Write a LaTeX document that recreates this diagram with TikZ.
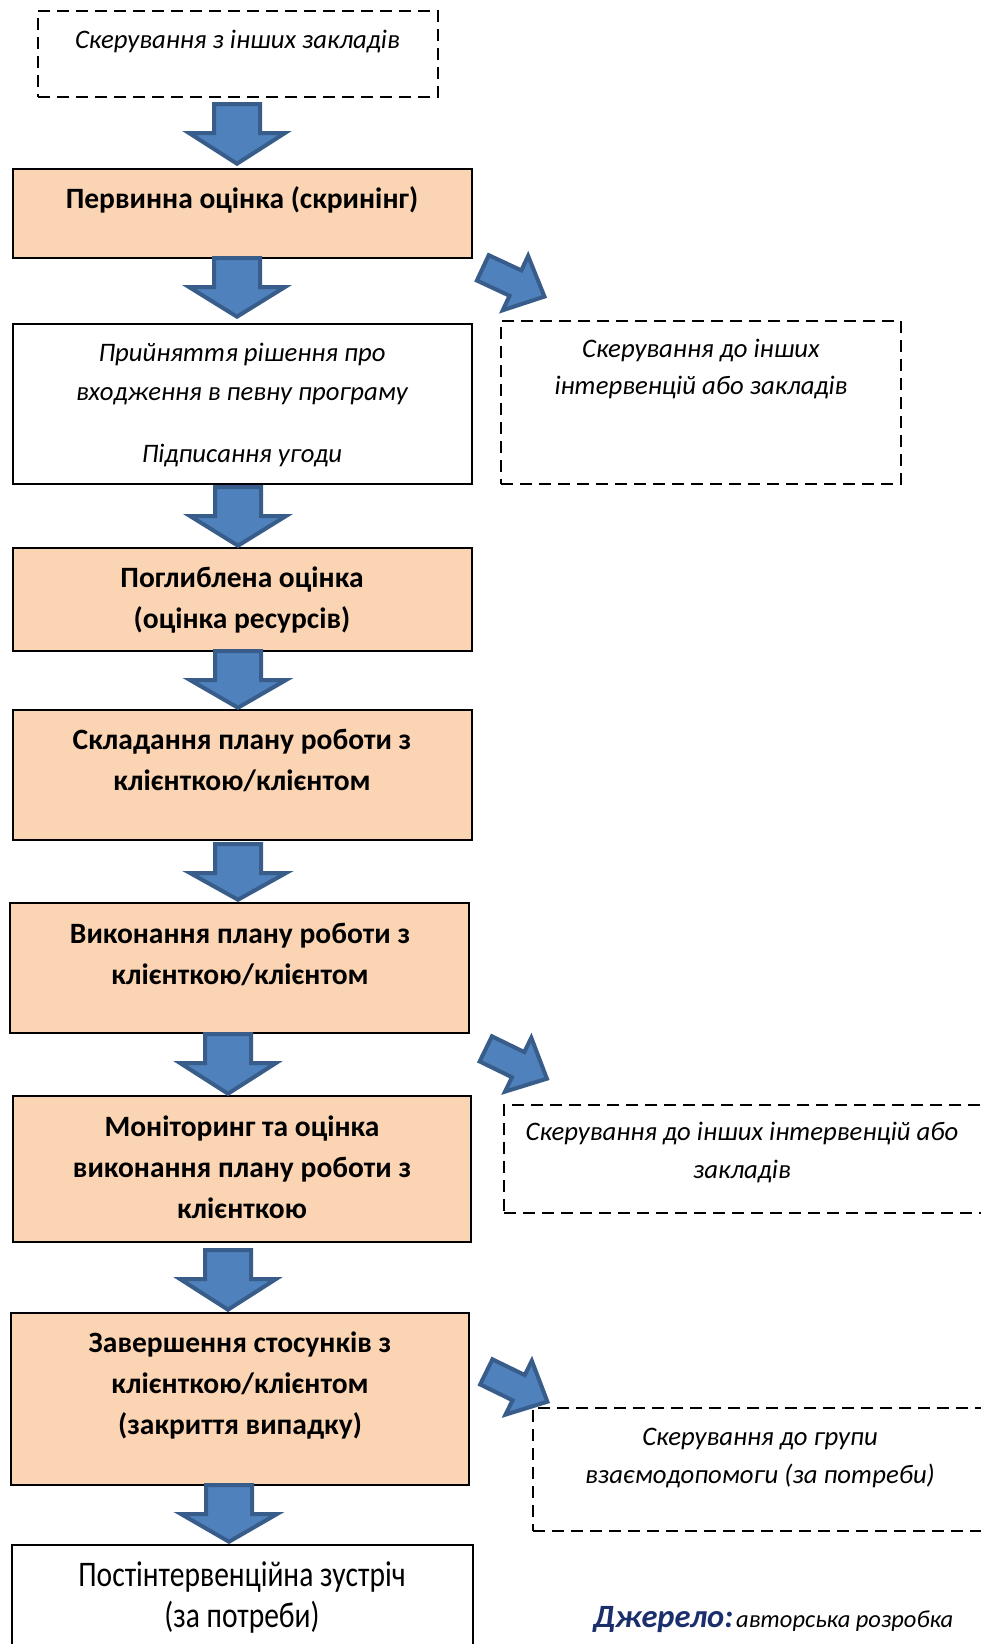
\documentclass[tikz,border=0pt]{standalone}
\usepackage{fontspec}
\setmainfont{Carlito}
\newfontfamily\narrowfont[FakeStretch=0.82]{Carlito}
\definecolor{peach}{HTML}{FBD4B4}
\definecolor{afill}{HTML}{4F81BD}
\definecolor{aline}{HTML}{385D8A}
\definecolor{srcblue}{HTML}{1A2F6B}
\newcommand\fB{\fontsize{29.5}{41}\selectfont}
\newcommand\fI{\fontsize{26.7}{39}\selectfont}
\newcommand\dnarrow[3]{% cx, top, tip
  \draw[barrow] (#1-23,#2+2) -- (#1+23,#2+2) -- (#1+23,#2+31) -- (#1+48,#2+31)
    -- (#1,#3-2.3) -- (#1-48,#2+31) -- (#1-23,#2+31) -- cycle;}
\newcommand\dgarrow[3]{% tail x, tail y, angle
  \begin{scope}[shift={(#1,#2)},rotate=#3]
  \draw[barrow] (2,-14) -- (38,-14) -- (38,-30) -- (70,0) -- (38,30) -- (38,14) -- (2,14) -- cycle;
  \end{scope}}
\begin{document}
\begin{tikzpicture}[x=1pt,y=-1pt,
  box/.style={draw=black, line width=1.6pt, anchor=north west, inner sep=0pt, outer sep=0pt},
  stepbox/.style={box, fill=peach},
  whitebox/.style={box, fill=white},
  dashbox/.style={box, dash pattern=on 12pt off 7pt},
  btxt/.style={font=\fB\bfseries, align=center, anchor=base, inner sep=0pt},
  itxt/.style={font=\fI\itshape, align=center, anchor=base, inner sep=0pt},
  barrow/.style={fill=afill, draw=aline, line width=4pt, line join=miter}
]
\useasboundingbox (0,0) rectangle (980,1644);
\fill[white] (0,0) rectangle (980,1644);

% main column boxes
\node[dashbox, minimum width=400pt, minimum height=86pt] (b1) at (38,11) {};
\node[stepbox, minimum width=459pt, minimum height=89pt] (b2) at (13,169) {};
\node[whitebox, minimum width=459pt, minimum height=160pt] (b3) at (13,324) {};
\node[stepbox, minimum width=459pt, minimum height=103pt] (b4) at (13,548) {};
\node[stepbox, minimum width=459pt, minimum height=130pt] (b5) at (13,710) {};
\node[stepbox, minimum width=459pt, minimum height=130pt] (b6) at (10,903) {};
\node[stepbox, minimum width=458pt, minimum height=146pt] (b7) at (13,1096) {};
\node[stepbox, minimum width=458pt, minimum height=172pt] (b8) at (11,1313) {};
\node[whitebox, minimum width=461pt, minimum height=130pt] (b9) at (12,1545) {};

% right boxes
\node[dashbox, minimum width=400pt, minimum height=163pt] (r1) at (501,321) {};
\node[dashbox, minimum width=488pt, minimum height=108pt] (r2) at (504,1105) {};
\node[dashbox, minimum width=460pt, minimum height=123pt] (r3) at (533,1408) {};

% arrows
\dnarrow{237}{102}{166}
\dnarrow{237}{256}{319}
\dnarrow{238}{485}{548}
\dnarrow{238}{649}{710}
\dnarrow{238}{842}{902}
\dnarrow{228}{1032}{1096}
\dnarrow{228}{1248}{1312}
\dnarrow{229}{1483}{1544}
\dgarrow{481}{267}{-25}
\dgarrow{484}{1048}{-26}
\dgarrow{484.5}{1371}{-26}

% texts (anchor = baseline of last line)
\node[itxt] (t1) at (237.5,48) {Скерування з інших закладів};
\node[btxt] (t2) at (242,208) {Первинна оцінка (скринінг)};
\node[itxt] (t3) at (242,462) {Прийняття рішення про\\входження в певну програму\\[23pt]Підписання угоди};
\node[btxt] (t4) at (242,628) {Поглиблена оцінка\\(оцінка ресурсів)};
\node[btxt] (t5) at (242,790) {Складання плану роботи з\\клієнткою/клієнтом};
\node[btxt] (t6) at (240,984) {Виконання плану роботи з\\клієнткою/клієнтом};
\node[btxt] (t7) at (242,1218) {Моніторинг та оцінка\\виконання плану роботи з\\клієнткою};
\node[btxt] (t8) at (240,1434) {Завершення стосунків з\\клієнткою/клієнтом\\(закриття випадку)};
\node[font=\narrowfont\fontsize{36}{41}\selectfont, align=center, anchor=base, inner sep=0pt] (t9) at (242,1627) {Постінтервенційна зустріч\\(за потреби)};
\node[itxt, font=\fontsize{26.7}{37}\selectfont\itshape] (tr1) at (701,394) {Скерування до інших\\інтервенцій або закладів};
\node[itxt, font=\fontsize{26.7}{38}\selectfont\itshape] (tr2) at (742,1178) {Скерування до інших інтервенцій або\\закладів};
\node[itxt, font=\fontsize{26.7}{38}\selectfont\itshape] (tr3) at (760,1483) {Скерування до групи\\взаємодопомоги (за потреби)};
\node[anchor=base west, inner sep=0pt] (src) at (593,1627) {{\color{srcblue}\fontsize{32.5}{34}\selectfont\bfseries\itshape Джерело:} {\fontsize{24.5}{30}\selectfont\itshape авторська розробка}};
\end{tikzpicture}
\end{document}
